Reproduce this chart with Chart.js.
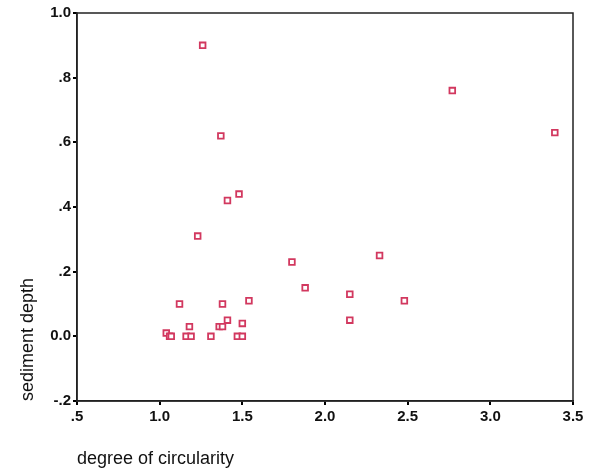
<!DOCTYPE html>
<html>
<head>
<meta charset="utf-8">
<script src="https://cdn.jsdelivr.net/npm/chart.js@4/dist/chart.umd.min.js"></script>
<style>
  html, body { margin: 0; padding: 0; background: #fff; }
  #wrap { width: 590px; height: 474px; position: relative; }
</style>
</head>
<body>
<div id="wrap"><canvas id="scatter"></canvas></div>
<script>
// degree of circularity (x) vs sediment depth (y)
const circularity = [1.04, 1.06, 1.07, 1.12, 1.16, 1.18, 1.19, 1.23, 1.26, 1.31,
                     1.36, 1.37, 1.38, 1.38, 1.41, 1.41, 1.47, 1.48, 1.50, 1.50,
                     1.54, 1.80, 1.88, 2.15, 2.15, 2.33, 2.48, 2.77, 3.39];
const sedimentDepth = [0.01, 0.00, 0.00, 0.10, 0.00, 0.03, 0.00, 0.31, 0.90, 0.00,
                       0.03, 0.62, 0.03, 0.10, 0.42, 0.05, 0.00, 0.44, 0.04, 0.00,
                       0.11, 0.23, 0.15, 0.13, 0.05, 0.25, 0.11, 0.76, 0.63];
const xTicks = [0.5, 1.0, 1.5, 2.0, 2.5, 3.0, 3.5];
const yTicks = [-0.2, 0.0, 0.2, 0.4, 0.6, 0.8, 1.0];

const fmt = (v) => {
    const s = Number(v).toFixed(1);
    if (s === '0.0' || s === '-0.0') return '0.0';
    return s.replace(/^(-?)0\./, '$1.');
};

// box around the plot area (SPSS style frame)
const frame = {
    id: 'frame',
    afterDraw(chart) {
        const { ctx, chartArea: a } = chart;
        ctx.save();
        ctx.strokeStyle = '#222';
        ctx.lineWidth = 1.5;
        ctx.strokeRect(a.left, a.top, a.right - a.left, a.bottom - a.top);
        ctx.restore();
    }
};

const tickFont = { family: "'Liberation Sans', Arial, sans-serif", size: 15, weight: 'bold' };
const titleFont = { family: "'Liberation Sans', Arial, sans-serif", size: 18 };

new Chart(document.getElementById('scatter'), {
    type: 'scatter',
    data: {
        datasets: [{
            data: circularity.map((x, i) => ({ x: x, y: sedimentDepth[i] })),
            pointStyle: 'rect',
            pointRadius: 4,
            pointHoverRadius: 4,
            borderWidth: 1.8,
            borderColor: '#d2385f',
            backgroundColor: '#fff'
        }]
    },
    options: {
        responsive: true, maintainAspectRatio: false, animation: false,
        layout: { padding: { left: 0, right: 17, top: 13, bottom: 0 } },
        plugins: { legend: { display: false }, tooltip: { enabled: false } },
        scales: {
            x: {
                type: 'linear', min: xTicks[0], max: xTicks[xTicks.length - 1],
                afterFit: (s) => { s.height = 73; },
                afterBuildTicks: (s) => { s.ticks = xTicks.map(v => ({ value: v })); },
                grid: { drawOnChartArea: false, drawTicks: true, tickLength: 4, color: '#000', lineWidth: 2 },
                border: { display: true, color: '#222', width: 1.5 },
                ticks: { color: '#111', font: tickFont, padding: 3, maxRotation: 0, callback: fmt },
                title: { display: true, text: 'degree of circularity', align: 'start', color: '#111',
                         font: titleFont, padding: { top: 0, bottom: 4 } }
            },
            y: {
                type: 'linear', min: yTicks[0], max: yTicks[yTicks.length - 1],
                afterFit: (s) => { s.width = 77; },
                afterBuildTicks: (s) => { s.ticks = yTicks.map(v => ({ value: v })); },
                grid: { drawOnChartArea: false, drawTicks: true, tickLength: 4, color: '#000', lineWidth: 2 },
                border: { display: true, color: '#222', width: 1.5 },
                ticks: { color: '#111', font: tickFont, padding: 2, callback: fmt },
                title: { display: true, text: 'sediment depth', align: 'start', color: '#111',
                         font: titleFont, padding: { top: 17, bottom: 0 } }
            }
        }
    },
    plugins: [frame]
});
</script>
</body>
</html>
